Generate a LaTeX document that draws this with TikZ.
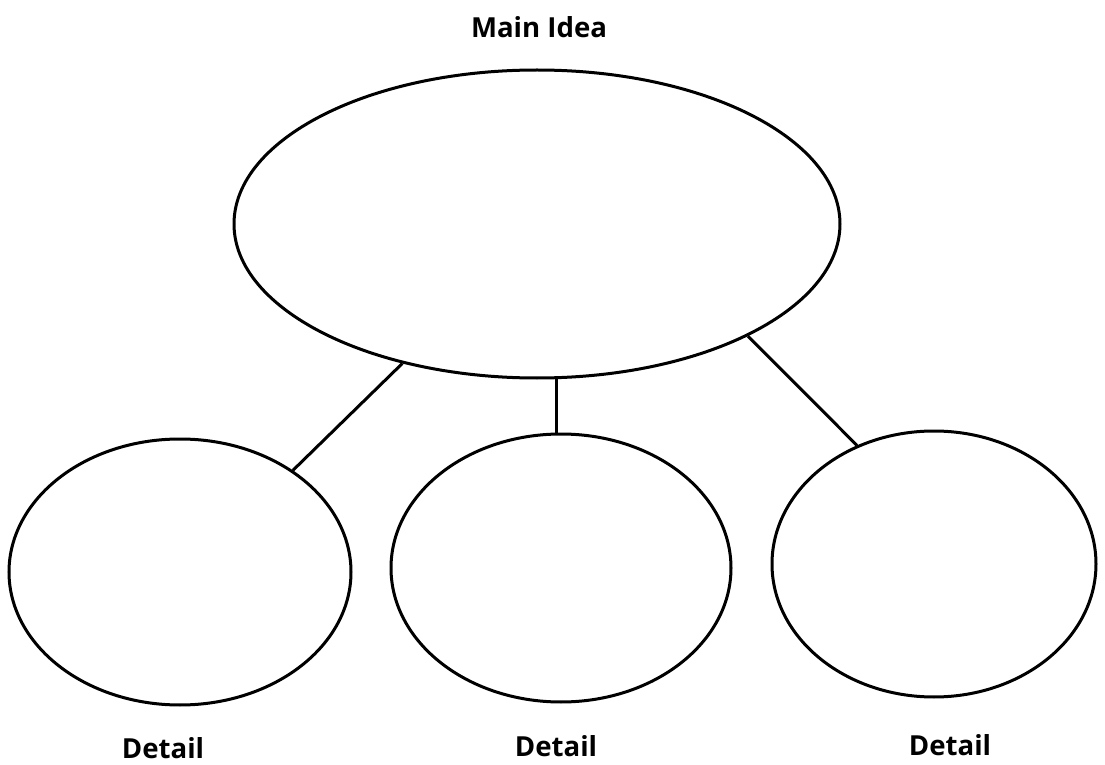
\documentclass[tikz,border=0pt]{standalone}
\usepackage{fontspec}
\setmainfont{Open Sans}
\usetikzlibrary{shapes.geometric}

\begin{document}
\begin{tikzpicture}[x=0.5pt,y=-0.5pt,
  bubble/.style={draw,black,ellipse,line width=1.5pt,inner sep=0pt},
  label/.style={font=\bfseries\fontsize{13.8}{16}\selectfont},
  link/.style={black,line width=1.5pt}]
 \useasboundingbox (0,0) rectangle (1105,765);
 \node[bubble,minimum width=303pt,minimum height=154pt] (main) at (537,224) {};
 \node[bubble,minimum width=171pt,minimum height=133pt] (left) at (180,572) {};
 \node[bubble,minimum width=170pt,minimum height=134pt] (middle) at (561,568) {};
 \node[bubble,minimum width=162pt,minimum height=133pt] (right) at (934,564) {};
 \node[label] (mainlabel) at (539,27) {Main Idea};
 \node[label] (leftlabel) at (163,748) {Detail};
 \node[label] (middlelabel) at (556,746) {Detail};
 \node[label] (rightlabel) at (950,745) {Detail};
 \draw[link] (main.-134.6) -- (left.42.9);
 \draw[link] (main.-83.4) -- (main.-83.4 |- middle.north);
 \draw[link] (main.-28.4) -- (right.123.4);
\end{tikzpicture}
\end{document}
